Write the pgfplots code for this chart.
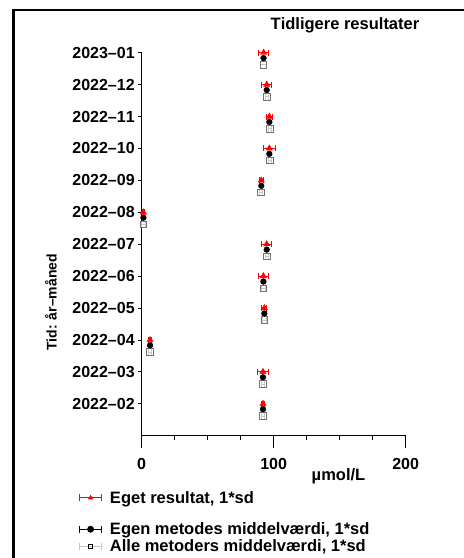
\documentclass[border=0pt]{standalone}
\usepackage{pgfplots}
\pgfplotsset{compat=1.18}
\usepackage{pgfplotstable}
\usepackage{fontspec}
\setmainfont[Kerning=Off]{Liberation Sans}
\definecolor{sqgray}{gray}{0.45}
\definecolor{lgray}{gray}{0.78}
\definecolor{myred}{RGB}{255,0,0}

% own result (triangles)
\pgfplotstableread{
y x ex
1 91.9 1.5
2 91.9 3.8
3 6.3 1.0
4 92.9 2.0
5 92.2 3.8
6 94.7 3.8
7 1.3 1.0
8 90.6 1.5
9 96.7 4.5
10 96.7 2.5
11 94.7 4.0
12 92.4 4.0
}\tri
% own method mean (circles)
\pgfplotstableread{
y x ex
0.83 91.9 1.2
1.83 91.9 1.2
2.83 6.3 1.2
3.83 92.9 1.2
4.83 92.2 1.2
5.83 94.7 1.2
6.83 1.3 1.2
7.83 90.6 1.2
8.83 96.7 1.2
9.83 96.7 1.2
10.83 94.7 1.2
11.83 92.3 1.2
}\circ
% all methods mean (squares)
\pgfplotstableread{
y x ex
0.62 91.9 1.2
1.62 91.9 1.2
2.62 6.3 1.2
3.62 92.9 1.2
4.62 92.2 1.2
5.62 94.7 1.2
6.62 1.3 1.2
7.62 90.2 1.2
8.62 97.0 1.2
9.62 97.0 1.2
10.62 94.7 1.2
11.62 92.2 0.0
}\sqr

\pgfplotsset{
  legimg/.style n args={3}{legend image code/.code={
    \draw[#1, line width=0.8pt] (0pt,0pt) -- (22pt,0pt) (0pt,-3.5pt) -- (0pt,3.5pt) (22pt,-3.5pt) -- (22pt,3.5pt);
    \draw[#2] plot coordinates {(11pt,0pt)};}},
}

\begin{document}
\begin{tikzpicture}
\useasboundingbox (0pt,0pt) rectangle (464pt,558pt);
\draw[line width=2.5pt] (13.5pt,-20pt) -- (13.5pt,548pt) -- (490pt,548pt);
\node[font=\fontsize{16.5}{19}\selectfont\bfseries] at (345pt,533pt) {Tidligere resultater};
\node[font=\fontsize{14}{17}\selectfont\bfseries, rotate=90, anchor=base] at (56.7pt,255.5pt) {Tid: år–måned};
\node[font=\fontsize{16.5}{19}\selectfont\bfseries, anchor=base] at (338.5pt,77.3pt) {µmol/L};
\begin{axis}[
  scale only axis, width=264pt, height=383pt,
  at={(141.7pt,122.3pt)}, anchor=south west,
  xmin=0, xmax=200, ymin=0, ymax=12,
  axis lines=left, axis line style={-, line width=0.8pt, black},
  clip=false,
  xtick={0,100,200}, xticklabels={0,100,200},
  minor xtick={25,50,75,125,150,175},
  tick align=outside, major tick length=12pt, minor tick length=4.5pt,
  every tick/.style={black, line width=0.8pt},
  ytick=\empty,
  extra y ticks={1,2,3,4,5,6,7,8,9,10,11,12},
  extra y tick labels={2022–02,2022–03,2022–04,2022–05,2022–06,2022–07,2022–08,2022–09,2022–10,2022–11,2022–12,2023–01},
  extra y tick style={major tick length=3.5pt},
  tick label style={font=\fontsize{16}{19}\selectfont\bfseries},
  xticklabel style={yshift=-7pt},
  legend style={at={(axis description cs:-0.2375,-0.139)}, anchor=north west,
    draw=none, fill=none, font=\fontsize{16.5}{19}\selectfont\bfseries,
    row sep=0pt, inner sep=0pt, column sep=6pt,
    cells={anchor=base west}},
  legend cell align=left,
]
\addplot[forget plot, only marks, mark=square, mark size=3.3pt, sqgray, mark options={line width=0.8pt, fill=white},
  error bars/.cd, x dir=both, x explicit,
  error bar style={lgray, line width=0.8pt},
  error mark options={lgray, rotate=90, mark size=3pt, line width=0.8pt}]
  table[x=x, y=y, x error=ex] {\sqr};
\addplot[forget plot, only marks, mark=*, mark size=2.9pt, black,
  error bars/.cd, x dir=both, x explicit,
  error bar style={black, line width=0.8pt},
  error mark options={black, rotate=90, mark size=2pt, line width=0.8pt}]
  table[x=x, y=y, x error=ex] {\circ};
\addplot[forget plot, only marks, mark=triangle*, mark size=3.6pt, myred,
  error bars/.cd, x dir=both, x explicit,
  error bar style={myred, line width=1pt},
  error mark options={myred, rotate=90, mark size=3pt, line width=1pt}]
  table[x=x, y=y, x error=ex] {\tri};

\addlegendimage{legimg={myred}{myred, mark=triangle*, mark size=2.6pt}{}}
\addlegendentry{Eget resultat, 1*sd}
\end{axis}
\begin{axis}[
  scale only axis, width=264pt, height=383pt,
  at={(141.7pt,122.3pt)}, anchor=south west,
  xmin=0, xmax=200, ymin=0, ymax=12,
  hide axis,
  legend style={at={(axis description cs:-0.2375,-0.2209)}, anchor=north west,
    draw=none, fill=none, font=\fontsize{16.5}{19}\selectfont\bfseries,
    row sep=-0.5pt, inner sep=0pt, column sep=6pt,
    cells={anchor=base west}},
  legend cell align=left,
]
\addlegendimage{legimg={black}{black, mark=*, mark size=3.2pt}{}}
\addlegendentry{Egen metodes middelværdi, 1*sd}
\addlegendimage{legimg={lgray}{black, mark=square, mark size=2.2pt, mark options={fill=white, line width=0.6pt}}{}}
\addlegendentry{Alle metoders middelværdi, 1*sd}
\end{axis}
\end{tikzpicture}
\end{document}
